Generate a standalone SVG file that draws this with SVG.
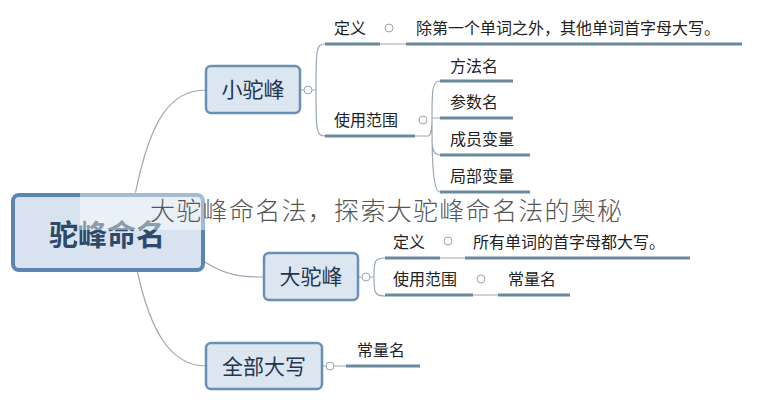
<svg xmlns="http://www.w3.org/2000/svg" width="764" height="402" viewBox="0 0 764 402">
<style>
.t{font-family:"Liberation Sans","Noto Sans CJK SC",sans-serif;fill:#222;font-size:16px}
.n{fill:#dce6f1;stroke:#6a8fb5;stroke-width:2.5}
.nt{font-family:"Liberation Sans","Noto Sans CJK SC",sans-serif;fill:#1f3550;font-size:21px;text-anchor:middle}
.c{fill:none;stroke:#9aa8b4;stroke-width:1.2}
.u{stroke:#6b8a9e;stroke-width:3}
.th{stroke:#9aa8b4;stroke-width:1}
.o{fill:#fff;stroke:#9aa;stroke-width:1}
</style>
<rect width="764" height="402" fill="#fff"/>
<g id="connectors">
<path class="c" d="M135,195 C150,120 170,90 206,90"/>
<path class="c" d="M205,262 C225,275 240,277 264,277"/>
<path class="c" d="M137,270 C150,330 170,366 206,366"/>
<path class="c" d="M300,90 H304 M312,90 H316 M325,44 C316,44 316,50 316,90 C316,130 316,136 325,136"/>
<path class="c" d="M428,136 C432,136 432,120 432,120 M440,81 C432,81 432,90 432,120 C432,150 432,192 440,192 M432,118 H440 M432,140 C432,150 434,155 440,155"/>
<path class="c" d="M358,277 H362 M370,277 H374 M385,258 C374,258 374,262 374,277 C374,292 374,296 385,296"/>
<path class="c" d="M322,366 H326 M334,366 H346"/>
<line class="th" x1="380" y1="44" x2="406" y2="44"/>
<line class="th" x1="415" y1="136" x2="428" y2="136"/>
<line class="th" x1="440" y1="258" x2="465" y2="258"/>
<line class="th" x1="473" y1="295" x2="498" y2="295"/>
</g>
<g id="underlines">
<line class="u" x1="325" y1="44" x2="380" y2="44"/>
<line class="u" x1="406" y1="44" x2="742" y2="44"/>
<line class="u" x1="325" y1="136" x2="415" y2="136"/>
<line class="u" x1="440" y1="81" x2="513" y2="81"/>
<line class="u" x1="440" y1="118" x2="513" y2="118"/>
<line class="u" x1="440" y1="155" x2="530" y2="155"/>
<line class="u" x1="440" y1="192" x2="530" y2="192"/>
<line class="u" x1="385" y1="258" x2="440" y2="258"/>
<line class="u" x1="465" y1="258" x2="690" y2="258"/>
<line class="u" x1="385" y1="295" x2="473" y2="295"/>
<line class="u" x1="498" y1="295" x2="570" y2="295"/>
<line class="u" x1="346" y1="366" x2="420" y2="366"/>
</g>
<g id="collapse">
<circle class="o" cx="308" cy="90" r="4"/><circle class="o" cx="389" cy="28" r="4"/><circle class="o" cx="423" cy="120" r="4"/>
<circle class="o" cx="366" cy="277" r="4"/><circle class="o" cx="448" cy="241" r="4"/><circle class="o" cx="481" cy="279" r="4"/>
<circle class="o" cx="330" cy="366" r="4"/>
</g>
<g id="root"><rect x="13" y="195" width="190" height="75" rx="6" fill="#d8e3ef" stroke="#5b84b0" stroke-width="4"/>
<text x="107" y="246" font-family="Liberation Sans,Noto Sans CJK SC,sans-serif" font-size="29" font-weight="bold" fill="#2e4a6a" text-anchor="middle">驼峰命名</text></g>
<g id="xiaotuofeng"><rect class="n" x="206" y="66" width="94" height="47" rx="5"/><text class="nt" x="253" y="97">小驼峰</text></g>
<g id="datuofeng"><rect class="n" x="264" y="253" width="94" height="47" rx="5"/><text class="nt" x="311" y="284">大驼峰</text></g>
<g id="quanbudaxie"><rect class="n" x="206" y="343" width="116" height="46" rx="5"/><text class="nt" x="264" y="374">全部大写</text></g>
<g id="labels">
<text class="t" x="334" y="34">定义</text>
<text class="t" x="416" y="34">除第一个单词之外，其他单词首字母大写。</text>
<text class="t" x="334" y="126">使用范围</text>
<text class="t" x="450" y="72">方法名</text>
<text class="t" x="450" y="108">参数名</text>
<text class="t" x="450" y="145">成员变量</text>
<text class="t" x="450" y="182">局部变量</text>
<text class="t" x="393" y="248">定义</text>
<text class="t" x="473" y="248">所有单词的首字母都大写。</text>
<text class="t" x="393" y="285">使用范围</text>
<text class="t" x="508" y="285">常量名</text>
<text class="t" x="357" y="356">常量名</text>
</g>
<g id="watermark">
<rect x="80" y="192" width="125" height="38" fill="#fff" opacity="0.45"/>
<text x="150" y="220" font-family="Liberation Sans,Noto Sans CJK SC,sans-serif" font-size="25" font-weight="300" letter-spacing="1.3" fill="#555">大驼峰命名法，探索大驼峰命名法的奥秘</text>
</g>
</svg>
